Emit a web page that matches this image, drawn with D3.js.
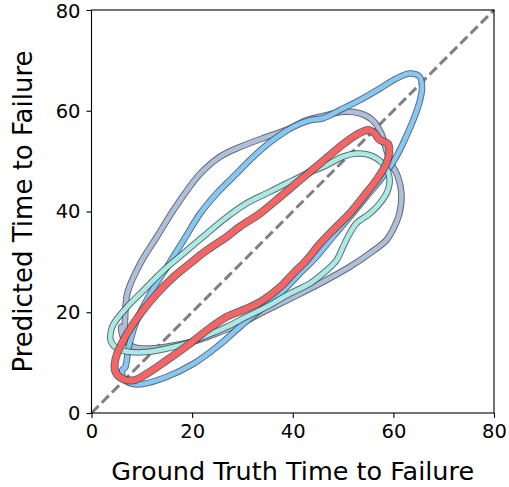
<!DOCTYPE html>
<html>
<head>
<meta charset="utf-8">
<script src="https://cdn.jsdelivr.net/npm/d3@7"></script>
<style>
  body { margin: 0; background: #fff; }
  svg { font-family: "DejaVu Sans", sans-serif; }
</style>
</head>
<body>
<svg width="509" height="487"></svg>
<script>
// contour outlines, [ground truth, predicted]
var grayLoop = [[6.4,16.4],[7.1,23.7],[9.7,29.7],[13.0,35.0],[16.3,40.3],[19.0,44.2],[21.6,47.5],[25.6,50.9],
  [29.5,52.8],[34.8,54.8],[38.8,56.2],[42.7,58.1],[46.7,59.1],[50.0,59.8],[53.3,59.5],[55.9,58.1],[57.6,55.5],
  [58.6,52.2],[59.6,49.5],[60.9,46.9],[61.6,43.6],[61.2,39.6],[60.2,37.0],[58.6,34.3],[55.3,31.7],[51.3,29.0],
  [45.4,25.7],[40.1,23.0],[34.8,20.4],[29.5,17.7],[25.6,16.1],[20.9,14.4],[16.3,13.4],[11.7,12.8],[8.4,13.1],
  [6.4,14.8],[5.9,17.1]];

var blueLoop = [[6.7,9.1],[7.4,13.1],[9.0,18.4],[11.7,23.7],[15.0,29.0],[18.3,34.3],[21.6,39.6],[24.9,43.6],
  [28.2,46.9],[32.2,50.9],[36.1,54.2],[40.1,56.8],[43.4,58.1],[46.0,58.5],[49.3,60.1],[53.3,62.1],[57.3,64.4],
  [60.6,66.4],[63.2,67.4],[65.2,66.8],[65.7,64.8],[65.3,62.1],[64.2,58.8],[62.5,54.8],[60.6,50.9],[57.9,46.9],
  [54.6,42.9],[51.3,38.9],[48.0,35.0],[44.7,31.0],[41.4,27.7],[37.5,23.7],[33.5,20.4],[29.5,17.1],[24.9,13.1],
  [20.3,9.8],[15.0,7.2],[10.4,5.8],[8.1,5.8],[6.4,6.8],[6.1,8.5]];

var tealLoop = [[4.4,17.7],[7.1,21.1],[10.4,24.4],[14.3,28.3],[18.3,31.7],[22.9,35.6],[26.9,38.9],[30.8,41.6],
  [34.8,43.6],[38.8,45.6],[42.7,47.5],[46.7,49.2],[50.0,50.9],[52.6,51.5],[55.3,51.2],[57.9,49.5],[59.2,46.9],
  [58.9,44.2],[57.3,41.6],[55.3,39.6],[52.6,37.6],[51.3,35.6],[50.0,33.0],[48.7,30.3],[46.7,28.3],[43.4,25.7],
  [39.4,23.7],[34.8,21.1],[30.8,19.1],[26.9,17.1],[22.9,15.4],[19.0,13.8],[15.0,12.8],[11.0,12.1],[7.7,12.1],
  [5.1,12.8],[3.8,14.4],[3.9,16.4]];

var redLoop = [[5.1,11.8],[7.1,15.8],[9.7,19.7],[13.0,23.7],[16.3,27.0],[19.6,29.7],[22.9,32.3],[26.9,35.0],
  [29.5,37.0],[33.5,39.6],[37.5,42.9],[41.4,46.2],[45.4,49.5],[49.3,52.8],[52.6,55.2],[55.0,56.2],[56.3,55.5],
  [57.3,54.2],[58.9,53.5],[59.2,51.9],[58.6,49.5],[56.6,46.2],[54.0,42.9],[51.3,39.6],[48.7,37.0],[45.4,33.6],
  [42.7,30.3],[40.1,27.7],[37.5,25.0],[34.1,22.4],[30.8,20.7],[26.9,19.1],[22.9,16.4],[19.6,13.8],[15.0,10.5],
  [11.0,7.8],[8.4,6.5],[6.1,6.8],[4.8,8.1],[4.6,9.8]];

var tickVals = [0, 20, 40, 60, 80];

var svg = d3.select("svg"),
    margin = {left: 91.5, right: 15, top: 10, bottom: 74},
    width = +svg.attr("width") - margin.left - margin.right,
    height = +svg.attr("height") - margin.top - margin.bottom;

var x = d3.scaleLinear().domain([0, 80]).range([margin.left, margin.left + width]),
    y = d3.scaleLinear().domain([0, 80]).range([margin.top + height, margin.top]);

var line = d3.line()
    .x(function(d) { return x(d[0]); })
    .y(function(d) { return y(d[1]); })
    .curve(d3.curveCatmullRomClosed.alpha(0.5));

// identity line
svg.append("line")
    .attr("x1", x(0)).attr("y1", y(0))
    .attr("x2", x(80)).attr("y2", y(80))
    .attr("stroke", "#808080")
    .attr("stroke-width", 3)
    .attr("stroke-dasharray", "10,4.5");

var loops = [
  {pts: grayLoop, color: "#aebfd9", w: 4.6},
  {pts: blueLoop, color: "#84c8f6", w: 4.6},
  {pts: tealLoop, color: "#aaeae4", w: 4.6},
  {pts: redLoop, color: "#f86464", w: 6}
];

var g = svg.append("g");
loops.forEach(function(l) {
  g.append("path")
      .attr("d", line(l.pts))
      .attr("fill", "none")
      .attr("stroke", "#3d4650")
      .attr("stroke-opacity", 0.8)
      .attr("stroke-width", l.w + 2)
      .attr("stroke-linejoin", "round");
  g.append("path")
      .attr("d", line(l.pts))
      .attr("fill", "none")
      .attr("stroke", l.color)
      .attr("stroke-width", l.w)
      .attr("stroke-linejoin", "round");
});

// frame
svg.append("rect")
    .attr("x", margin.left).attr("y", margin.top)
    .attr("width", width).attr("height", height)
    .attr("fill", "none")
    .attr("stroke", "#000")
    .attr("stroke-width", 1.1);

var xAxis = svg.append("g")
    .attr("transform", "translate(0," + (margin.top + height) + ")")
    .call(d3.axisBottom(x).tickValues(tickVals).tickSize(5).tickPadding(6));
var yAxis = svg.append("g")
    .attr("transform", "translate(" + margin.left + ",0)")
    .call(d3.axisLeft(y).tickValues(tickVals).tickSize(5).tickPadding(6));

[xAxis, yAxis].forEach(function(a) {
  a.select(".domain").remove();
  a.selectAll("line").attr("stroke", "#000").attr("stroke-width", 1.1);
  a.selectAll("text")
      .attr("fill", "#000")
      .style("font-family", "DejaVu Sans")
      .style("font-size", "19.5px");
});
// keep the top label inside the page
yAxis.selectAll("text").filter(function(d) { return d === 80; }).attr("dy", "0.38em");

svg.append("text")
    .attr("x", x(40))
    .attr("y", 480)
    .attr("text-anchor", "middle")
    .style("font-size", "25.5px")
    .text("Ground Truth Time to Failure");

svg.append("text")
    .attr("transform", "translate(32," + y(40) + ") rotate(-90)")
    .attr("text-anchor", "middle")
    .style("font-size", "26px")
    .text("Predicted Time to Failure");
</script>
</body>
</html>
